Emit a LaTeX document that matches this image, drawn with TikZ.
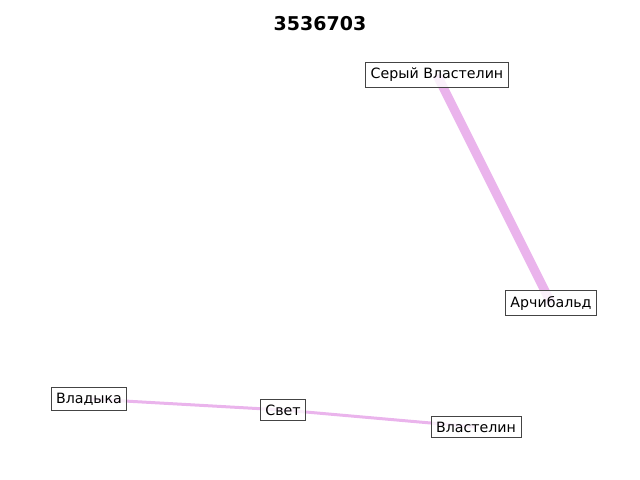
\documentclass[tikz,border=0pt]{standalone}
\usepackage{fontspec}
\setmainfont{DejaVu Sans}
\usepackage{tikz}
\definecolor{edgepink}{RGB}{234,180,236}
\definecolor{boxgray}{RGB}{68,68,68}
\tikzset{
  lbox/.style={draw=boxgray,line width=0.9bp,fill=white,fill opacity=0.8,text opacity=1,inner xsep=5bp,inner ysep=5.5bp,font=\fontsize{14.2bp}{15bp}\selectfont},
  lnk/.style={draw=edgepink,line width=#1},
  lnk/.default={3bp},
}
\begin{document}
\begin{tikzpicture}[x=1bp,y=1bp]
 \useasboundingbox (0,0) rectangle (640,480);
 \node[font=\bfseries\fontsize{19bp}{20bp}\selectfont] (title) at (320,456) {3536703};
 % positions of the nodes
 \coordinate (sv) at (437,405); \coordinate (ar) at (551,177);
 \coordinate (vd) at (89,81); \coordinate (sw) at (283,70); \coordinate (vl) at (476,53);
 \draw[lnk=9bp] (sv) -- (ar);
 \draw[lnk] (vd) -- (sw) -- (vl);
 \node[lbox] (nsv) at (sv) {Серый Властелин};
 \node[lbox] (nar) at (ar) {Арчибальд};
 \node[lbox] (nvd) at (vd) {Владыка};
 \node[lbox] (nsw) at (sw) {Свет};
 \node[lbox] (nvl) at (vl) {Властелин};
\end{tikzpicture}
\end{document}
